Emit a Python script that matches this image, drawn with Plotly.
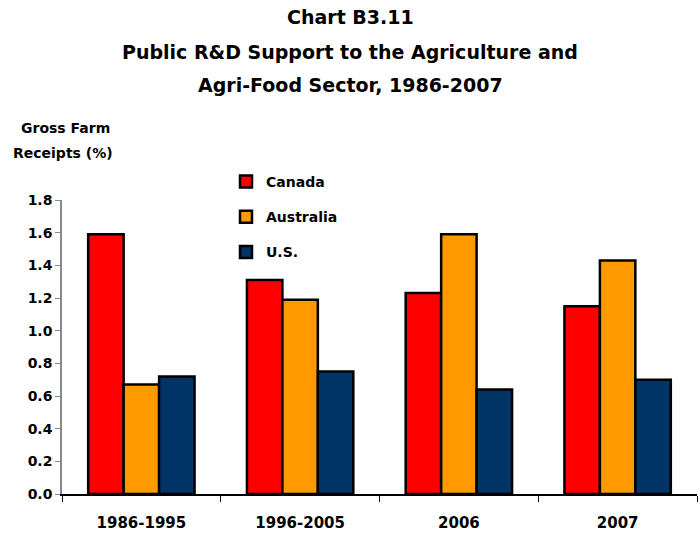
import plotly.graph_objects as go

categories = ["1986-1995", "1996-2005", "2006", "2007"]
canada = [1.59, 1.31, 1.23, 1.15]
australia = [0.67, 1.19, 1.59, 1.43]
us = [0.72, 0.75, 0.64, 0.70]
series_names = ["Canada", "Australia", "U.S."]
colors = ["#FF0000", "#FF9900", "#003366"]
y_ticks = [0.0, 0.2, 0.4, 0.6, 0.8, 1.0, 1.2, 1.4, 1.6, 1.8]

FONT = "DejaVu Sans"
W, H = 700, 533
ML, MR, MT, MB = 62, 3, 200, 39
plot_w = W - ML - MR
plot_h = H - MT - MB


def px_x(x):
    return (x - ML) / plot_w


def px_y(y):
    return (H - MB - y) / plot_h


fig = go.Figure()
for name, vals, col in zip(series_names, [canada, australia, us], colors):
    fig.add_trace(go.Bar(
        x=categories, y=vals, name=name, legendgroup=name,
        marker=dict(color=col, line=dict(color="black", width=2.5)),
    ))

fig.update_layout(
    width=W, height=H,
    paper_bgcolor="white", plot_bgcolor="white",
    margin=dict(l=ML, r=MR, t=MT, b=MB, autoexpand=False),
    barmode="group", bargap=0.33, bargroupgap=0,
    font=dict(family=FONT, size=14, color="black", weight="bold"),
    showlegend=True,
    legend=dict(x=px_x(226), y=px_y(166), xanchor="left", yanchor="top",
                bgcolor="rgba(0,0,0,0)", traceorder="grouped",
                tracegroupgap=14, font=dict(size=14, weight="bold"),
                itemwidth=30),
    xaxis=dict(type="category", showline=True, linecolor="black", linewidth=1.5,
               ticks="outside", tickson="boundaries", ticklen=6, tickcolor="black",
               ticklabelstandoff=14,
               tickfont=dict(size=15, weight="bold"), showgrid=False),
    yaxis=dict(range=[0, 1.8], tickvals=y_ticks,
               ticktext=[f"{v:.1f}" for v in y_ticks],
               showline=True, linecolor="#888888", linewidth=1.5,
               ticks="outside", ticklen=5, tickcolor="#888888",
               tickfont=dict(size=14, weight="bold"), showgrid=False, zeroline=False),
    annotations=[
        dict(text="Chart B3.11", x=px_x(350), y=px_y(17), xanchor="center", yanchor="middle",
             xref="paper", yref="paper", showarrow=False, font=dict(size=19, weight="bold")),
        dict(text="Public R&D Support to the Agriculture and", x=px_x(350), y=px_y(52),
             xanchor="center", yanchor="middle",
             xref="paper", yref="paper", showarrow=False, font=dict(size=19, weight="bold")),
        dict(text="Agri-Food Sector, 1986-2007", x=px_x(350), y=px_y(85),
             xanchor="center", yanchor="middle",
             xref="paper", yref="paper", showarrow=False, font=dict(size=19, weight="bold")),
        dict(text="Gross Farm", x=px_x(19), y=px_y(128), xanchor="left", yanchor="middle",
             xref="paper", yref="paper", showarrow=False, font=dict(size=14, weight="bold")),
        dict(text="Receipts (%)", x=px_x(11), y=px_y(153), xanchor="left", yanchor="middle",
             xref="paper", yref="paper", showarrow=False, font=dict(size=14, weight="bold")),
    ],
)

fig.write_html("out.html", config={"displayModeBar": False},
               post_script="document.body.style.margin='0px';")
